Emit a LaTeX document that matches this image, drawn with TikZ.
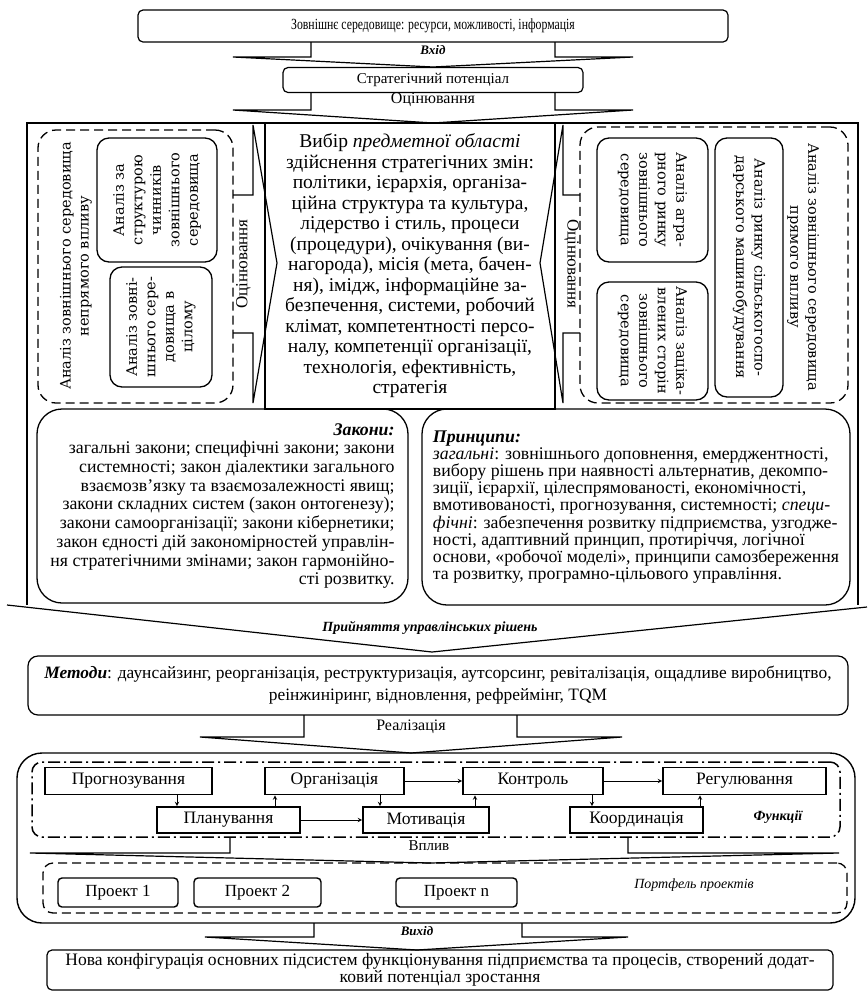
\documentclass[tikz,border=0pt]{standalone}
\usepackage{fontspec}
\setmainfont{Liberation Serif}
\newfontfamily\narrowfont[FakeStretch=0.76]{Liberation Serif}
\newfontfamily\panelfont{DejaVu Serif}
\tikzstyle{box} = [draw,line width=1.2pt,align=center,inner sep=3pt]
\tikzstyle{rbox} = [box,rounded corners=5pt]
\tikzstyle{vbox} = [draw,line width=1.3pt,rounded corners=12pt,align=center,inner sep=2pt,font=\panelfont\fontsize{14.5}{18.5}\selectfont]
\tikzstyle{dbox} = [draw,line width=1.3pt,dash pattern=on 9pt off 5pt,rounded corners=18pt]
\tikzstyle{func} = [draw,line width=1.6pt,minimum height=27pt,inner sep=1pt,font=\fontsize{17.5}{18}\selectfont]
\tikzstyle{proj} = [draw,line width=1.4pt,rounded corners=4pt,minimum height=29pt,font=\fontsize{17}{18}\selectfont]
\tikzstyle{flow} = [->,>=stealth,line width=1pt]
\tikzstyle{barrow} = [line width=1.2pt,line join=miter]
\tikzstyle{lbl} = [inner sep=0pt,align=center,font=\fontsize{16}{17}\selectfont]

\begin{document}
\begin{tikzpicture}[x=1pt,y=-1pt]
  \useasboundingbox (0,0) rectangle (868,994);

  % input and potential
  \node[rbox,minimum width=590pt,minimum height=32pt,font=\narrowfont\fontsize{15.5}{16}\selectfont] (env) at (433,26) {Зовнішнє середовище: ресурси, можливості, інформація};
  \draw[barrow] (311,42) -- (311,57) -- (233,57) -- (433,67) -- (633,57) -- (555,57) -- (555,42);
  \node[lbl,font=\fontsize{13}{14}\selectfont\bfseries\itshape] (in) at (433,50) {Вхід};
  \node[rbox,minimum width=300pt,minimum height=25pt,font=\fontsize{15}{16}\selectfont] (pot) at (433,80) {Стратегічний потенціал};
  \draw[barrow] (311,92) -- (311,110) -- (233,110) -- (433,123) -- (633,110) -- (555,110) -- (555,92);
  \node[lbl,font=\fontsize{16}{17}\selectfont] (eval) at (433,100) {Оцінювання};

  % strategic block
  \draw[barrow] (27,605) -- (27,123) -- (858,123) -- (858,605);
  \draw[barrow] (7,605) -- (432,652) -- (867,607);
  \node[lbl,font=\fontsize{14}{15}\selectfont\bfseries\itshape] (dec) at (430,628) {Прийняття управлінських рішень};

  \node[dbox,minimum width=195pt,minimum height=273pt] (indirect) at (135.5,266.5) {};
  \node[lbl,rotate=90,font=\panelfont\fontsize{14.5}{18}\selectfont] (indirectlbl) at (76,266) {Аналіз зовнішнього середовища\\непрямого впливу};
  \node[vbox,rotate=90,minimum width=124pt,minimum height=120pt] (lb1) at (157,200) {Аналіз за\\структурою\\чинників\\зовнішнього\\середовища};
  \node[vbox,rotate=90,minimum width=120pt,minimum height=102pt] (lb2) at (161,327) {Аналіз зовні-\\шнього сере-\\довища в\\цілому};

  \node[box,minimum width=290pt,minimum height=286pt,inner sep=0pt,font=\fontsize{19.5}{20.5}\selectfont] (choice) at (410,266)
    {Вибір \textit{предметної області}\\здійснення стратегічних змін:\\політики, ієрархія, організа-\\ційна структура та культура,\\лідерство і стиль, процеси\\(процедури), очікування (ви-\\нагорода), місія (мета, бачен-\\ня), імідж, інформаційне за-\\безпечення, системи, робочий\\клімат, компетентності персо-\\налу, компетенції організації,\\технологія, ефективність,\\стратегія};

  \draw[barrow] (233,195) -- (253,195) -- (253,125) -- (277,263) -- (253,403) -- (253,333) -- (233,333);
  \node[lbl,rotate=90,font=\fontsize{17}{18}\selectfont] (evall) at (243.5,264) {Оцінювання};
  \draw[barrow] (580,195) -- (563,195) -- (563,125) -- (540,263) -- (563,403) -- (563,333) -- (580,333);
  \node[lbl,rotate=-90,font=\fontsize{17}{18}\selectfont] (evalr) at (571.5,264) {Оцінювання};

  \node[dbox,minimum width=268pt,minimum height=276pt] (direct) at (714,265) {};
  \node[lbl,rotate=-90,font=\panelfont\fontsize{14.5}{18}\selectfont] (directlbl) at (803,267) {Аналіз зовнішнього середовища\\прямого впливу};
  \node[vbox,rotate=-90,minimum width=124pt,minimum height=111pt] (rb1) at (652.5,200) {Аналіз агра-\\рного ринку\\зовнішнього\\середовища};
  \node[vbox,rotate=-90,minimum width=118pt,minimum height=111pt] (rb2) at (652.5,341) {Аналіз заціка-\\влених сторін\\зовнішнього\\середовища};
  \node[vbox,rotate=-90,minimum width=259pt,minimum height=68pt] (rb3) at (749,267.5) {Аналіз ринку сільськогоспо-\\дарського машинобудування};

  \node[draw,line width=1.3pt,rounded corners=25pt,minimum width=371pt,minimum height=194pt,align=right,font=\fontsize{17.8}{18.7}\selectfont] (laws) at (222.5,506)
    {\textbf{\textit{Закони:}}\\загальні закони; специфічні закони; закони\\системності; закон діалектики загального\\взаємозв’язку та взаємозалежності явищ;\\закони складних систем (закон онтогенезу);\\закони самоорганізації; закони кібернетики;\\закон єдності дій закономірностей управлін-\\ня стратегічними змінами; закон гармонійно-\\сті розвитку.};
  \node[draw,line width=1.3pt,rounded corners=25pt,minimum width=428pt,minimum height=196pt,align=left,font=\fontsize{17.8}{17.2}\selectfont] (princ) at (636,507)
    {\textbf{\textit{Принципи:}}\\\textit{загальні}: зовнішнього доповнення, емерджентності,\\вибору рішень при наявності альтернатив, декомпо-\\зиції, ієрархії, цілеспрямованості, економічності,\\вмотивованості, прогнозування, системності; \textit{специ-}\\\textit{фічні}: забезпечення розвитку підприємства, узгодже-\\ності, адаптивний принцип, протиріччя, логічної\\основи, «робочої моделі», принципи самозбереження\\та розвитку, програмно-цільового управління.};

  % methods
  \node[rbox,rounded corners=10pt,minimum width=820pt,minimum height=59pt,inner sep=1pt,font=\fontsize{17.4}{22}\selectfont] (methods) at (438,685.5)
    {\textbf{\textit{Методи}}: даунсайзинг, реорганізація, реструктуризація, аутсорсинг, ревіталізація, ощадливе виробництво,\\реінжиніринг, відновлення, рефреймінг, TQM};
  \draw[barrow] (304,715) -- (304,737) -- (200,737) -- (411,753) -- (622,737) -- (517,737) -- (517,715);
  \node[lbl] (real) at (411,727) {Реалізація};

  % functions
  \node[draw,line width=1.4pt,rounded corners=25pt,minimum width=838pt,minimum height=170pt] (impl) at (436,838) {};
  \node[draw,line width=1.5pt,dash pattern=on 12pt off 4pt on 2pt off 4pt,rounded corners=10pt,minimum width=808pt,minimum height=75pt] (funcs) at (436,799.5) {};
  \node[func,minimum width=167pt] (prog) at (128.5,781) {Прогнозування};
  \node[func,minimum width=139pt] (org) at (334.5,781) {Організація};
  \node[func,minimum width=140pt] (kontr) at (533,781) {Контроль};
  \node[func,minimum width=163pt] (reg) at (744.5,781) {Регулювання};
  \node[func,minimum width=143pt,minimum height=26pt] (plan) at (228.5,820) {Планування};
  \node[func,minimum width=126pt,minimum height=26pt] (motiv) at (426,820) {Мотивація};
  \node[func,minimum width=133pt,minimum height=26pt] (koord) at (636.5,820) {Координація};
  \node[lbl,font=\fontsize{14}{15}\selectfont\bfseries\itshape] (funclbl) at (778,817) {Функції};

  \draw[flow] (org) -- (kontr);
  \draw[flow] (kontr) -- (reg);
  \draw[flow] (plan) -- (motiv);
  \draw[flow] (prog.south -| 177,0) -- (plan.north -| 177,0);
  \draw[flow] (plan.north -| 275,0) -- (org.south -| 275,0);
  \draw[flow] (org.south -| 380,0) -- (motiv.north -| 380,0);
  \draw[flow] (motiv.north -| 475,0) -- (kontr.south -| 475,0);
  \draw[flow] (kontr.south -| 592,0) -- (koord.north -| 592,0);
  \draw[flow] (koord.north -| 700,0) -- (reg.south -| 700,0);

  \draw[barrow] (230,837) -- (230,853) -- (30,853) -- (430,863) -- (839,853) -- (628,853) -- (628,837);
  \node[lbl,font=\fontsize{15}{16}\selectfont] (infl) at (429,846) {Вплив};

  % projects
  \node[dbox,dash pattern=on 9pt off 5pt,rounded corners=10pt,minimum width=804pt,minimum height=50pt] (portf) at (445,888) {};
  \node[proj,minimum width=120pt] (p1) at (118,892.5) {Проект 1};
  \node[proj,minimum width=127pt] (p2) at (257.5,892.5) {Проект 2};
  \node[proj,minimum width=121pt] (pn) at (456.5,892.5) {Проект n};
  \node[lbl,font=\fontsize{14}{15}\selectfont\itshape] (portflbl) at (694,885) {Портфель проектів};

  % output
  \draw[barrow] (314,923) -- (314,937) -- (205,937) -- (417,950) -- (628,937) -- (522,937) -- (522,923);
  \node[lbl,font=\fontsize{13}{14}\selectfont\bfseries\itshape] (out) at (417,931) {Вихід};
  \node[rbox,minimum width=786pt,minimum height=40pt,inner sep=0pt,font=\fontsize{17.5}{17.5}\selectfont] (result) at (440,970)
    {Нова конфігурація основних підсистем функціонування підприємства та процесів, створений додат-\\ковий потенціал зростання};
\end{tikzpicture}
\end{document}
